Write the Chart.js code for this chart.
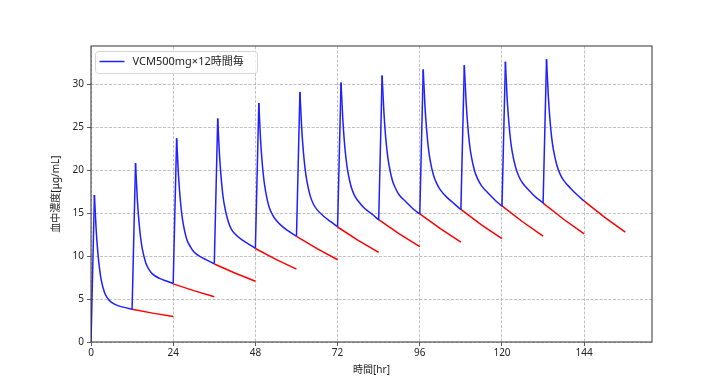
<!DOCTYPE html>
<html>
<head>
<meta charset="utf-8">
<script src="https://cdn.jsdelivr.net/npm/chart.js@4/dist/chart.umd.min.js"></script>
<style>
  html, body { margin: 0; padding: 0; background: #fff; }
  #wrap { width: 723px; height: 384px; }
</style>
</head>
<body>
<div id="wrap"><canvas id="myChart" width="723" height="384"></canvas></div>
<script>
// 投与時刻 [hr]
const doseTimes = [0, 12, 24, 36, 48, 60, 72, 84, 96, 108, 120, 132];
// 各投与からの経過時間 [hr]
const curveOffsets = [0, 1, 1.5, 2, 2.5, 3, 4, 5, 6, 8, 10, 12];
// 血中濃度 (青線) 投与ごと
const blueByDose = [
    [0, 17.1, 13.1, 10.4, 8.5, 7.2, 5.7, 5.0, 4.6, 4.2, 4.0, 3.8],
    [3.8, 20.8, 16.8, 14.0, 12.1, 10.8, 9.2, 8.4, 7.9, 7.4, 7.1, 6.8],
    [6.8, 23.7, 19.7, 16.9, 14.9, 13.6, 11.9, 11.1, 10.5, 9.9, 9.5, 9.1],
    [9.1, 26.0, 21.9, 19.1, 17.1, 15.8, 14.1, 13.1, 12.6, 11.9, 11.4, 10.9],
    [10.9, 27.8, 23.6, 20.8, 18.8, 17.5, 15.7, 14.8, 14.2, 13.4, 12.8, 12.3],
    [12.3, 29.1, 25.0, 22.2, 20.2, 18.8, 17.0, 16.0, 15.4, 14.6, 14.0, 13.4],
    [13.4, 30.2, 26.1, 23.2, 21.2, 19.8, 18.0, 17.0, 16.4, 15.5, 14.9, 14.2],
    [14.2, 31.0, 26.9, 24.0, 22.0, 20.6, 18.8, 17.8, 17.1, 16.3, 15.5, 14.9],
    [14.9, 31.7, 27.5, 24.7, 22.6, 21.2, 19.4, 18.4, 17.7, 16.8, 16.1, 15.4],
    [15.4, 32.2, 28.1, 25.2, 23.1, 21.7, 19.9, 18.9, 18.2, 17.3, 16.5, 15.8],
    [15.8, 32.6, 28.4, 25.6, 23.5, 22.1, 20.3, 19.2, 18.5, 17.6, 16.8, 16.2],
    [16.1, 32.9, 28.8, 25.9, 23.8, 22.4, 20.6, 19.5, 18.8, 17.9, 17.1, 16.4]
];
// 次の投与がなかった場合 (赤線)
const tailOffsets = [12, 18, 24];
const redByDose = [
    [3.8, 3.36, 2.96],
    [6.76, 5.98, 5.27],
    [9.08, 8.03, 7.07],
    [10.88, 9.62, 8.48],
    [12.29, 10.86, 9.57],
    [13.38, 11.83, 10.42],
    [14.24, 12.59, 11.09],
    [14.91, 13.18, 11.61],
    [15.43, 13.64, 12.02],
    [15.83, 13.99, 12.33],
    [16.15, 14.28, 12.58],
    [16.4, 14.5, 12.78]
];
const xTicks = [0, 24, 48, 72, 96, 120, 144];
const yTicks = [0, 5, 10, 15, 20, 25, 30];

// 点滴中 (直線) と 点滴後 (曲線) に分ける
let risePoints = [];
let decayPoints = [];
let redPoints = [];
for (let i = 0; i < doseTimes.length; i++) {
    let t0 = doseTimes[i];
    risePoints.push({x: t0 + curveOffsets[0], y: blueByDose[i][0]});
    risePoints.push({x: t0 + curveOffsets[1], y: blueByDose[i][1]});
    risePoints.push({x: t0 + 1, y: null});
    for (let j = 1; j < curveOffsets.length; j++) {
        decayPoints.push({x: t0 + curveOffsets[j], y: blueByDose[i][j]});
    }
    decayPoints.push({x: t0 + 12, y: null});
    for (let j = 0; j < tailOffsets.length; j++) {
        redPoints.push({x: t0 + tailOffsets[j], y: redByDose[i][j]});
    }
    redPoints.push({x: t0 + 24, y: null});
}

const jpFont = "'Noto Sans', 'Noto Sans CJK JP', sans-serif";

// 枠線と凡例 (matplotlib風)
const frameLegend = {
    id: 'frameLegend',
    afterDraw(chart) {
        const {ctx, chartArea: a} = chart;
        ctx.save();
        ctx.strokeStyle = '#333';
        ctx.lineWidth = 1;
        ctx.strokeRect(a.left, a.top, a.right - a.left, a.bottom - a.top);

        const bx = a.left + 4.5, by = a.top + 5.5, bw = 162, bh = 22;
        ctx.beginPath();
        ctx.roundRect(bx, by, bw, bh, 3);
        ctx.fillStyle = 'rgba(255,255,255,0.8)';
        ctx.fill();
        ctx.strokeStyle = '#d5d5d5';
        ctx.stroke();

        ctx.beginPath();
        ctx.moveTo(bx + 4, by + 10);
        ctx.lineTo(bx + 29, by + 10);
        ctx.strokeStyle = '#1f1fff';
        ctx.lineWidth = 1.5;
        ctx.stroke();

        ctx.fillStyle = '#222';
        ctx.font = '11px ' + jpFont;
        ctx.textBaseline = 'middle';
        ctx.fillText(chart.data.datasets[0].label, bx + 37, by + 10.5);
        ctx.restore();
    }
};

new Chart(document.getElementById('myChart'), {
    type: 'line',
    data: {
        datasets: [{
            label: 'VCM500mg×12時間毎',
            data: decayPoints,
            borderColor: '#1f1fff',
            borderWidth: 1.5,
            pointRadius: 0,
            cubicInterpolationMode: 'monotone',
            spanGaps: false
        }, {
            label: 'rise',
            data: risePoints,
            borderColor: '#1f1fff',
            borderWidth: 1.5,
            pointRadius: 0,
            tension: 0,
            spanGaps: false
        }, {
            label: 'red',
            data: redPoints,
            borderColor: '#ff0000',
            borderWidth: 1.5,
            pointRadius: 0,
            tension: 0,
            spanGaps: false
        }]
    },
    options: {
        responsive: false,
        animation: false,
        layout: {padding: {left: 50, right: 71, top: 46, bottom: 8}},
        plugins: {legend: {display: false}, tooltip: {enabled: false}},
        scales: {
            x: {
                type: 'linear',
                min: 0,
                max: 163.8,
                afterBuildTicks: s => { s.ticks = xTicks.map(v => ({value: v})); },
                afterFit: s => { s.height = 34; },
                grid: {color: '#b0b0b0', lineWidth: 0.8, tickColor: '#333', tickLength: 4, tickBorderDash: []},
                border: {display: false, dash: [3, 1.5]},
                ticks: {font: {family: jpFont, size: 10}, color: '#222', padding: 1, maxRotation: 0},
                title: {display: true, text: '時間[hr]', font: {family: jpFont, size: 10}, color: '#222', padding: {top: 2, bottom: 0}}
            },
            y: {
                min: 0,
                max: 34.44,
                afterBuildTicks: s => { s.ticks = yTicks.map(v => ({value: v})); },
                afterFit: s => { s.width = 41; },
                grid: {color: '#b0b0b0', lineWidth: 0.8, tickColor: '#333', tickLength: 4, tickBorderDash: []},
                border: {display: false, dash: [3, 1.5]},
                ticks: {font: {family: jpFont, size: 10}, color: '#222', padding: 3},
                title: {display: true, text: '血中濃度[μg/mL]', font: {family: jpFont, size: 10}, color: '#222', padding: {top: 0, bottom: 4}}
            }
        }
    },
    plugins: [frameLegend]
});
</script>
</body>
</html>
